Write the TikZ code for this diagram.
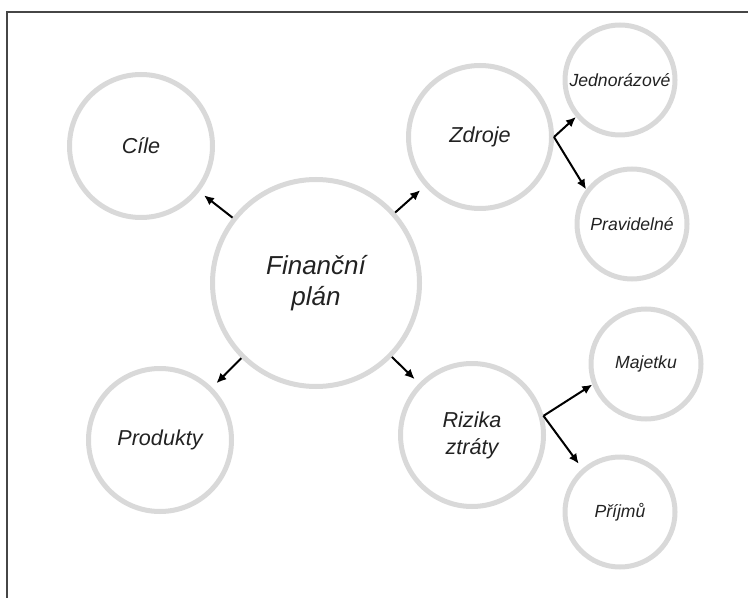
\documentclass[tikz,border=0pt]{standalone}
\usepackage{fontspec}
\setmainfont{Liberation Sans}
\usetikzlibrary{shapes,arrows.meta,positioning,calc}
\definecolor{ringgray}{RGB}{217,217,217}
\definecolor{textgray}{RGB}{34,34,34}
\definecolor{framegray}{RGB}{70,70,70}

\begin{document}
\begin{tikzpicture}[x=0.5pt,y=-0.5pt,
    ring/.style={circle,draw=ringgray,line width=2.5pt,inner sep=0pt,text=textgray,align=center},
    hub/.style={ring,minimum size=103.5pt,font=\itshape\fontsize{13}{15.5}\selectfont},
    topic/.style={ring,minimum size=71.5pt,font=\itshape\fontsize{10.8}{13.5}\selectfont},
    leaf/.style={ring,minimum size=55pt,font=\itshape\fontsize{8.8}{10.5}\selectfont},
    arr/.style={-{Latex[length=5pt,width=4.5pt]},line width=1pt,black}]
    \useasboundingbox (0,0) rectangle (748,598);
    % frame
    \draw[framegray,line width=1pt] (7,598) -- (7,12) -- (748,12);

    \node[hub] (fin) at (316,283) {Finanční\\plán};

    \node[topic] (cile) at (141,146) {Cíle};
    \node[topic] (zdroje) at (480,137) {Zdroje};
    \node[topic] (produkty) at (160,440) {Produkty};
    \node[topic] (rizika) at (472,435) {Rizika\\ztráty};

    \node[leaf] (jedn) at (620,80) {Jednorázové};
    \node[leaf] (prav) at (632,224) {Pravidelné};
    \node[leaf] (majetku) at (646,364) {Majetku};
    \node[leaf] (prijmu) at (620,512) {Příjmů};

    \draw[arr,shorten >=3pt] (fin) -- (cile);
    \draw[arr,shorten >=3pt] (fin) -- (zdroje);
    \draw[arr,shorten >=3pt] (fin) -- (produkty);
    \draw[arr,shorten >=3pt] (fin) -- (rizika);

    \draw[arr] (zdroje.east) -- (jedn.220);
    \draw[arr] (zdroje.east) -- (prav.143);
    \draw[arr] (rizika.15) -- (majetku.201);
    \draw[arr,shorten >=3pt] (rizika.15) -- (prijmu.131);
\end{tikzpicture}
\end{document}
